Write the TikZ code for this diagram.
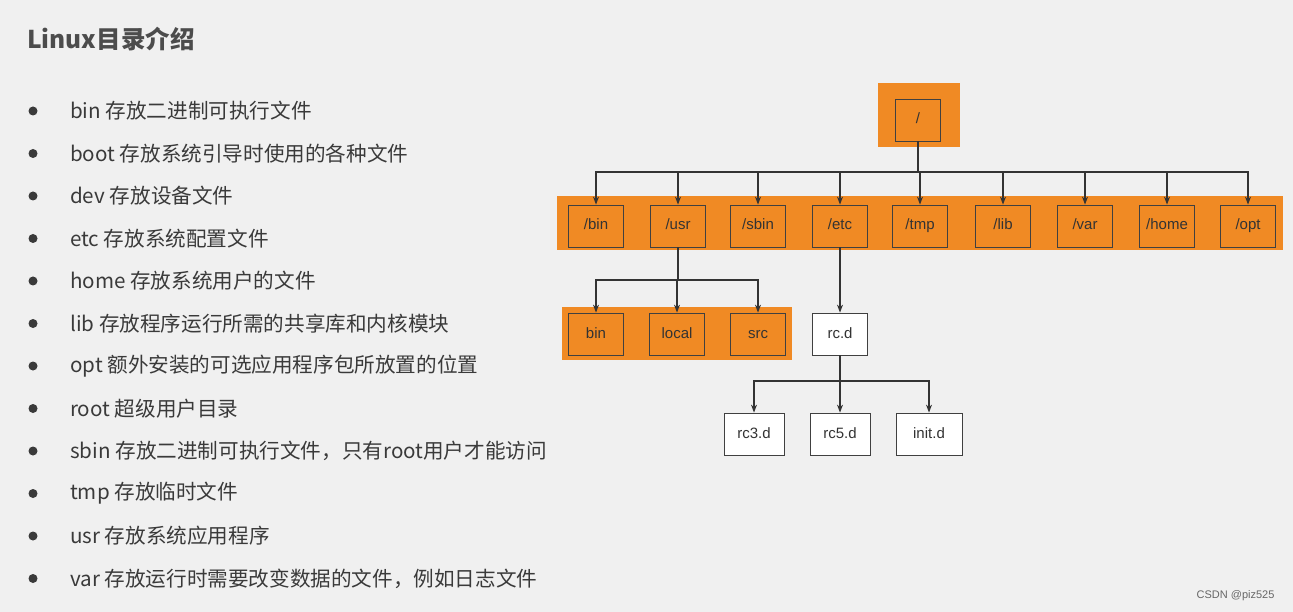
\documentclass[tikz,border=0pt]{standalone}
\usepackage{fontspec}
\setmainfont{Liberation Sans}
\newfontfamily\cjk{Noto Sans CJK SC}
\usetikzlibrary{positioning,arrows.meta}
\definecolor{bgray}{HTML}{F0F0F0}
\definecolor{dirorange}{HTML}{F08A24}
\definecolor{txtgray}{HTML}{3A3A3A}
\tikzset{
  dir/.style={draw=black!75, line width=0.8pt, minimum width=55pt, minimum height=42pt,
    font=\fontsize{15}{15}\selectfont, text=black!80, inner sep=0pt,
    text height=11pt, text depth=3pt},
  odir/.style={dir, fill=dirorange},
  arr/.style={-{Stealth[length=8pt,width=6pt]}, line width=1.1pt, black!80},
  item/.style={anchor=west, font=\cjk\fontsize{20.6}{20.6}\selectfont, text=txtgray, inner sep=0pt}
}
\begin{document}
\begin{tikzpicture}[x=1pt,y=-1pt]
  \fill[bgray] (0,0) rectangle (1293,612);
  \useasboundingbox (0,0) rectangle (1293,612);
  % title and list
  \node[item, font=\cjk\bfseries\fontsize{24.5}{24.5}\selectfont, text=black!70] (title) at (27,39) {Linux目录介绍};
  \foreach \txt [count=\i] in {bin 存放二进制可执行文件, boot 存放系统引导时使用的各种文件,
      dev 存放设备文件, etc 存放系统配置文件, home 存放系统用户的文件,
      lib 存放程序运行所需的共享库和内核模块, opt 额外安装的可选应用程序包所放置的位置,
      root 超级用户目录, sbin 存放二进制可执行文件{，}只有root用户才能访问,
      tmp 存放临时文件, usr 存放系统应用程序, var 存放运行时需要改变数据的文件{，}例如日志文件} {
    \fill[txtgray] (33,{111+42.5*(\i-1)}) circle (4.5);
    \node[item] (item\i) at (70,{111+42.5*(\i-1)}) {\txt};
  }
  % orange backgrounds
  \fill[dirorange] (878,83) rectangle (960,147);
  \fill[dirorange] (557,196) rectangle (1283,250);
  \fill[dirorange] (562,307) rectangle (792,360);
  % tree
  \node[dir, minimum width=45pt] (root) at (918,120) {/};
  \foreach \nm/\x in {bin/596, usr/678, sbin/758, etc/840, tmp/920,
      lib/1003, var/1085, home/1167, opt/1248} {
    \node[odir] (\nm) at (\x,226) {/\nm};
    \draw[arr] (root.south) -- (root.south|-0,172) -| (\nm.north);
  }
  \node[odir] (ubin) at (596,334) {bin};
  \node[odir] (ulocal) at (677,334) {local};
  \node[odir] (usrc) at (758,334) {src};
  \node[dir, fill=white] (rcd) at (840,334) {rc.d};
  \foreach \nm in {ubin,ulocal,usrc}
    \draw[arr] (usr.south) -- (usr.south|-0,280) -| (\nm.north);
  \draw[arr] (etc) -- (rcd);
  \node[dir, fill=white, minimum width=60pt] (rcthree) at (754,434) {rc3.d};
  \node[dir, fill=white, minimum width=60pt] (rcfive) at (840,434) {rc5.d};
  \node[dir, fill=white, minimum width=66pt] (initd) at (929,434) {init.d};
  \foreach \nm in {rcthree,rcfive,initd}
    \draw[arr] (rcd.south) -- (rcd.south|-0,381) -| (\nm.north);
  % watermark
  \node[anchor=east, font=\fontsize{11}{11}\selectfont, text=black!60] (mark) at (1278,596) {CSDN @piz525};
\end{tikzpicture}
\end{document}
